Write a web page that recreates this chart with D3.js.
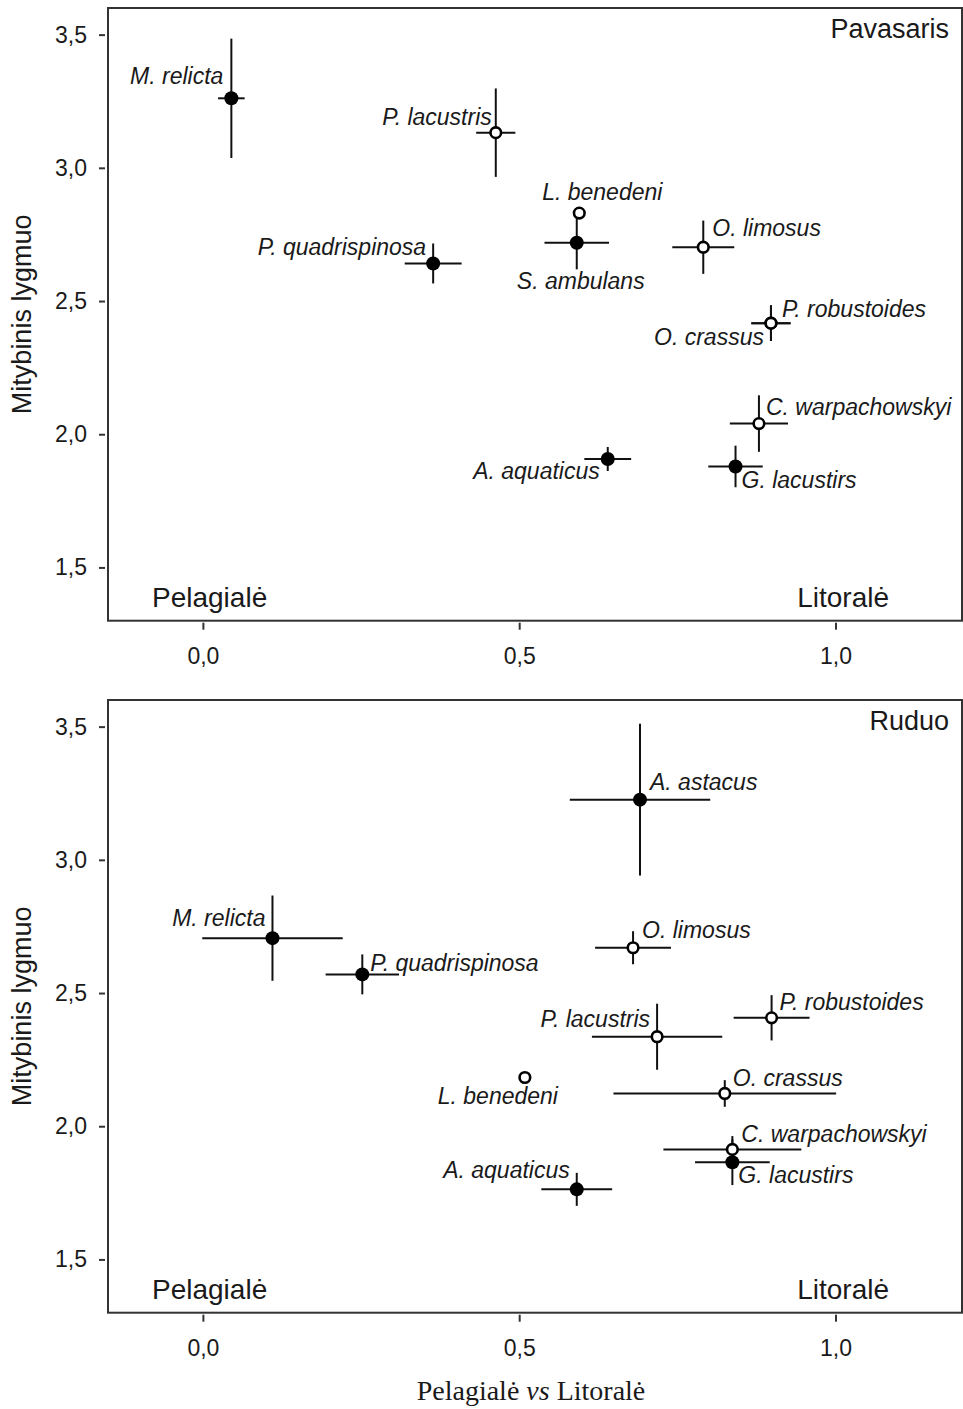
<!DOCTYPE html>
<html>
<head>
    <meta charset="utf-8">
    <title>Mitybinis lygmuo</title>
    <script src="https://d3js.org/d3.v7.min.js"></script>
    <style>
        body { margin: 0; background: #fff; }
        text { font-family: 'Liberation Sans', Arial, sans-serif; fill: #1a1a1a; }
        .sp { font-style: italic; font-size: 23px; }
        .tick text { font-size: 23px; }
    </style>
</head>
<body>
    <svg id="chart" width="963" height="1409"></svg>

    <script>
        // ---- data ----
        const xTicks = [0, 0.5, 1.0];
        const yTicks = [1.5, 2.0, 2.5, 3.0, 3.5];

        // Pavasaris (spring)
        const springSpecies = ["M. relicta", "P. lacustris", "L. benedeni", "S. ambulans", "P. quadrispinosa",
                               "O. limosus", "P. robustoides", "O. crassus", "C. warpachowskyi", "G. lacustirs", "A. aquaticus"];
        const springX    = [0.045, 0.463, 0.595, 0.591, 0.364, 0.791, 0.898, 0.898, 0.879, 0.842, 0.640];
        const springXErr = [0.021, 0.031, 0,     0.051, 0.045, 0.049, 0.031, 0.031, 0.046, 0.043, 0.037];
        const springY    = [3.261, 3.132, 2.830, 2.719, 2.641, 2.702, 2.417, 2.417, 2.040, 1.879, 1.907];
        const springYErr = [0.224, 0.166, 0,     0.100, 0.075, 0.100, 0.067, 0.067, 0.106, 0.078, 0.045];
        const springFilled = [true, false, false, true, true, false, false, false, false, true, true];

        // Ruduo (autumn)
        const autumnSpecies = ["A. astacus", "M. relicta", "P. quadrispinosa", "O. limosus", "P. robustoides", "P. lacustris",
                               "L. benedeni", "O. crassus", "C. warpachowskyi", "G. lacustirs", "A. aquaticus"];
        const autumnX    = [0.691, 0.110, 0.252, 0.680, 0.899, 0.718, 0.509, 0.825, 0.837, 0.837, 0.591];
        const autumnXErr = [0.111, 0.111, 0.058, 0.060, 0.060, 0.103, 0,     0.176, 0.109, 0.059, 0.056];
        const autumnY    = [3.226, 2.706, 2.570, 2.670, 2.407, 2.336, 2.183, 2.123, 1.913, 1.865, 1.763];
        const autumnYErr = [0.285, 0.160, 0.075, 0.062, 0.085, 0.124, 0,     0.050, 0.050, 0.086, 0.062];
        const autumnFilled = [true, true, true, false, false, false, false, false, false, true, true];

        // label placement [anchor, dx, dy] relative to the point
        const springLabelPos = [["end", -8, -14], ["end", -4, -8], ["middle", 23, -13], ["middle", 4, 46], ["end", -7, -8],
                                ["start", 9, -11], ["start", 11, -6], ["end", -7, 22], ["start", 7, -9], ["start", 6, 22], ["end", -8, 20]];
        const autumnLabelPos = [["start", 10, -10], ["end", -7, -12], ["start", 8, -3], ["start", 9, -10], ["start", 8, -8],
                                ["end", -7, -10], ["middle", -27, 27], ["start", 8, -7], ["start", 9, -7], ["start", 6, 21], ["end", -7, -11]];

        const svg = d3.select("#chart");
        const left = 108, right = 962, panelH = 612.7;

        const x = d3.scaleLinear().domain([-0.15, 1.2]).range([left, right]);
        const comma = d3.formatLocale({decimal: ",", thousands: ".", grouping: [3], currency: ["", ""]}).format(".1f");

        function drawPanel(top, title, species, xs, xe, ys, ye, filled, labelPos){
            let y = d3.scaleLinear().domain([1.3, 3.6]).range([top + panelH, top]);
            let g = svg.append("g");

            g.append("rect")
                .attr("x", left).attr("y", top)
                .attr("width", right - left).attr("height", panelH)
                .attr("fill", "none").attr("stroke", "#333").attr("stroke-width", 2);

            let xa = g.append("g")
                .attr("transform", `translate(0,${top + panelH + 2})`)
                .call(d3.axisBottom(x).tickValues(xTicks).tickFormat(comma).tickSize(7).tickPadding(18));
            xa.select(".domain").remove();

            let ya = g.append("g")
                .attr("transform", `translate(${left - 3},0)`)
                .call(d3.axisLeft(y).tickValues(yTicks).tickFormat(comma).tickSize(6).tickPadding(12));
            ya.select(".domain").remove();

            g.selectAll(".tick line").attr("stroke", "#333").attr("stroke-width", 2);
            g.selectAll(".tick text").attr("fill", "#1a1a1a").style("font-family", "'Liberation Sans', Arial, sans-serif");

            let pts = species.map((s, i) => ({name: s, x: xs[i], xe: xe[i], y: ys[i], ye: ye[i], filled: filled[i], lp: labelPos[i]}));

            // error bars
            g.selectAll(".hbar").data(pts.filter(d => d.xe > 0)).enter().append("line")
                .attr("x1", d => x(d.x - d.xe)).attr("x2", d => x(d.x + d.xe))
                .attr("y1", d => y(d.y)).attr("y2", d => y(d.y))
                .attr("stroke", "#111").attr("stroke-width", 2);
            g.selectAll(".vbar").data(pts.filter(d => d.ye > 0)).enter().append("line")
                .attr("x1", d => x(d.x)).attr("x2", d => x(d.x))
                .attr("y1", d => y(d.y - d.ye)).attr("y2", d => y(d.y + d.ye))
                .attr("stroke", "#111").attr("stroke-width", 2);

            // filled first, open on top
            let ordered = pts.filter(d => d.filled).concat(pts.filter(d => !d.filled));
            g.selectAll(".pt").data(ordered).enter().append("circle")
                .attr("cx", d => x(d.x)).attr("cy", d => y(d.y))
                .attr("r", d => d.filled ? 7 : 5.3)
                .attr("fill", d => d.filled ? "#000" : "#fff")
                .attr("stroke", "#000")
                .attr("stroke-width", d => d.filled ? 0 : 2.6);

            g.selectAll(".sp").data(pts).enter().append("text")
                .attr("class", "sp")
                .attr("x", d => x(d.x) + d.lp[1])
                .attr("y", d => y(d.y) + d.lp[2])
                .attr("text-anchor", d => d.lp[0])
                .text(d => d.name);

            // corner labels
            g.append("text").attr("x", 949).attr("y", top + 30)
                .attr("text-anchor", "end").style("font-size", "27px").text(title);
            g.append("text").attr("x", 152).attr("y", top + 598.7)
                .style("font-size", "28px").text("Pelagialė");
            g.append("text").attr("x", 889).attr("y", top + 598.7)
                .attr("text-anchor", "end").style("font-size", "28px").text("Litoralė");

            g.append("text")
                .attr("transform", `translate(22,${top + panelH / 2}) rotate(-90)`)
                .attr("text-anchor", "middle").attr("dominant-baseline", "central")
                .style("font-size", "27px").text("Mitybinis lygmuo");
        }

        drawPanel(8, "Pavasaris", springSpecies, springX, springXErr, springY, springYErr, springFilled, springLabelPos);
        drawPanel(700, "Ruduo", autumnSpecies, autumnX, autumnXErr, autumnY, autumnYErr, autumnFilled, autumnLabelPos);

        // shared x title (serif, "vs" italic)
        let xt = svg.append("text")
            .attr("x", 531).attr("y", 1400)
            .attr("text-anchor", "middle")
            .style("font-family", "'Liberation Serif', 'Times New Roman', serif")
            .style("font-size", "28px");
        xt.append("tspan").text("Pelagialė ");
        xt.append("tspan").style("font-style", "italic").text("vs");
        xt.append("tspan").text(" Litoralė");
    </script>
</body>
</html>
